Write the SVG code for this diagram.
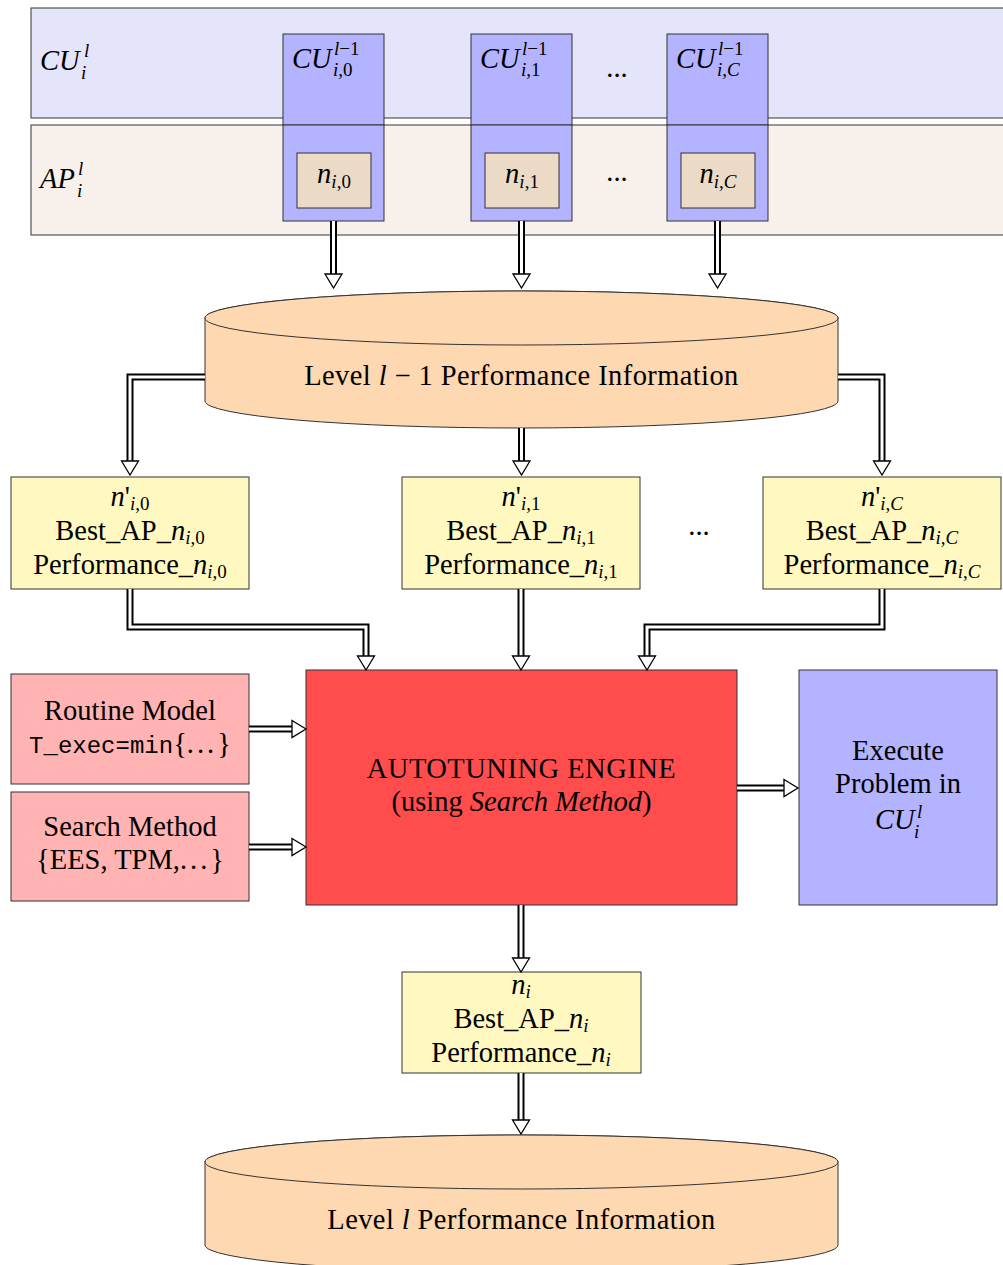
<svg xmlns="http://www.w3.org/2000/svg" width="1003" height="1265" viewBox="0 0 1003 1265">
<style>
.t{font-family:"Liberation Serif",serif;font-size:28.5px;fill:#000}
.i{font-style:italic}
.s{font-size:19px}
.tt{font-family:"Liberation Mono",monospace;font-size:24px}
.bx{stroke:#333;stroke-width:1}
.o{fill:none;stroke:#000;stroke-width:7;stroke-linejoin:miter}
.w{fill:none;stroke:#fff;stroke-width:3;stroke-linejoin:miter;marker-end:url(#hd)}
</style>
<defs>
<marker id="hd" viewBox="-1 -10 17 20" refX="0" refY="0" markerWidth="17" markerHeight="20" markerUnits="userSpaceOnUse" orient="auto" overflow="visible">
<path d="M0,-8.5 L14,0 L0,8.5 Z" fill="#fff" stroke="#000" stroke-width="1.3" stroke-linejoin="miter"/>
</marker>
</defs>
<rect width="1003" height="1265" fill="#fff"/>

<g id="cu-band">
<rect class="bx" x="31" y="8" width="1000" height="110" fill="#E4E4FB"/>
<text class="t i" x="40" y="70">CU<tspan class="s" x="84" y="57">l</tspan><tspan class="s" x="81" y="79">i</tspan></text>
</g>
<g id="ap-band">
<rect class="bx" x="31" y="125" width="1000" height="110" fill="#F8F0EA"/>
<text class="t i" x="40" y="188">AP<tspan class="s" x="78" y="175">l</tspan><tspan class="s" x="77" y="197">i</tspan></text>
</g>

<g id="cu0">
<rect class="bx" x="283" y="34" width="101" height="91" fill="#B3B3FF"/>
<rect class="bx" x="283" y="125" width="101" height="96" fill="#B3B3FF"/>
<text class="t i" x="292" y="68">CU<tspan class="s" x="334" y="55">l<tspan font-style="normal">−1</tspan></tspan><tspan class="s" x="333" y="76">i<tspan font-style="normal">,0</tspan></tspan></text>
<rect class="bx" x="297" y="153" width="74" height="55" fill="#EBDAC6"/>
<text class="t" x="334" y="183" text-anchor="middle"><tspan class="i">n</tspan><tspan class="s" dy="5"><tspan class="i">i</tspan>,0</tspan></text>
</g>
<g id="cu1">
<rect class="bx" x="471" y="34" width="101" height="91" fill="#B3B3FF"/>
<rect class="bx" x="471" y="125" width="101" height="96" fill="#B3B3FF"/>
<text class="t i" x="480" y="68">CU<tspan class="s" x="522" y="55">l<tspan font-style="normal">−1</tspan></tspan><tspan class="s" x="521" y="76">i<tspan font-style="normal">,1</tspan></tspan></text>
<rect class="bx" x="485" y="153" width="74" height="55" fill="#EBDAC6"/>
<text class="t" x="522" y="183" text-anchor="middle"><tspan class="i">n</tspan><tspan class="s" dy="5"><tspan class="i">i</tspan>,1</tspan></text>
</g>
<g id="cuC">
<rect class="bx" x="667" y="34" width="101" height="91" fill="#B3B3FF"/>
<rect class="bx" x="667" y="125" width="101" height="96" fill="#B3B3FF"/>
<text class="t i" x="676" y="68">CU<tspan class="s" x="718" y="55">l<tspan font-style="normal">−1</tspan></tspan><tspan class="s" x="717" y="76">i<tspan font-style="normal">,</tspan>C</tspan></text>
<rect class="bx" x="681" y="153" width="74" height="55" fill="#EBDAC6"/>
<text class="t" x="718" y="183" text-anchor="middle"><tspan class="i">n</tspan><tspan class="s" dy="5"><tspan class="i">i</tspan>,<tspan class="i">C</tspan></tspan></text>
</g>
<g id="dots-top">
<text class="t" x="617" y="77" text-anchor="middle">...</text>
<text class="t" x="617" y="181" text-anchor="middle">...</text>
</g>

<g id="db-prev">
<path class="bx" d="M205,318 V401 A316.5,27 0 0 0 838,401 V318 A316.5,27 0 0 0 205,318 Z" fill="#FED8B1"/>
<ellipse class="bx" cx="521.5" cy="318" rx="316.5" ry="27" fill="#FED8B1"/>
<text class="t" x="521.5" y="385" text-anchor="middle" letter-spacing="0.4">Level <tspan class="i">l</tspan> − 1 Performance Information</text>
</g>

<g id="best0">
<rect class="bx" x="11" y="477" width="238" height="112" fill="#FFF9C1"/>
<text class="t" x="130" y="506" text-anchor="middle"><tspan class="i">n</tspan>'<tspan class="s" dy="4"><tspan class="i">i</tspan>,0</tspan></text>
<text class="t" x="130" y="540" text-anchor="middle">Best_AP_<tspan class="i">n</tspan><tspan class="s" dy="4"><tspan class="i">i</tspan>,0</tspan></text>
<text class="t" x="130" y="574" text-anchor="middle">Performance_<tspan class="i">n</tspan><tspan class="s" dy="4"><tspan class="i">i</tspan>,0</tspan></text>
</g>
<g id="best1">
<rect class="bx" x="402" y="477" width="238" height="112" fill="#FFF9C1"/>
<text class="t" x="521" y="506" text-anchor="middle"><tspan class="i">n</tspan>'<tspan class="s" dy="4"><tspan class="i">i</tspan>,1</tspan></text>
<text class="t" x="521" y="540" text-anchor="middle">Best_AP_<tspan class="i">n</tspan><tspan class="s" dy="4"><tspan class="i">i</tspan>,1</tspan></text>
<text class="t" x="521" y="574" text-anchor="middle">Performance_<tspan class="i">n</tspan><tspan class="s" dy="4"><tspan class="i">i</tspan>,1</tspan></text>
</g>
<g id="bestC">
<rect class="bx" x="763" y="477" width="238" height="112" fill="#FFF9C1"/>
<text class="t" x="882" y="506" text-anchor="middle"><tspan class="i">n</tspan>'<tspan class="s" dy="4"><tspan class="i">i</tspan>,<tspan class="i">C</tspan></tspan></text>
<text class="t" x="882" y="540" text-anchor="middle">Best_AP_<tspan class="i">n</tspan><tspan class="s" dy="4"><tspan class="i">i</tspan>,<tspan class="i">C</tspan></tspan></text>
<text class="t" x="882" y="574" text-anchor="middle">Performance_<tspan class="i">n</tspan><tspan class="s" dy="4"><tspan class="i">i</tspan>,<tspan class="i">C</tspan></tspan></text>
</g>
<g id="dots-mid">
<text class="t" x="699" y="535" text-anchor="middle">...</text>
</g>

<g id="routine">
<rect class="bx" x="11" y="674" width="238" height="110" fill="#FFB3B3"/>
<text class="t" x="130" y="720" text-anchor="middle">Routine Model</text>
<text class="t" x="130" y="753" text-anchor="middle"><tspan class="tt">T_exec=min</tspan>{<tspan letter-spacing="3">...</tspan>}</text>
</g>
<g id="search">
<rect class="bx" x="11" y="792" width="238" height="109" fill="#FFB3B3"/>
<text class="t" x="130" y="836" text-anchor="middle">Search Method</text>
<text class="t" x="130" y="869" text-anchor="middle">{EES, TPM,<tspan letter-spacing="3">...</tspan>}</text>
</g>
<g id="engine">
<rect class="bx" x="306" y="670" width="431" height="235" fill="#FF4D4D"/>
<text class="t" x="521.5" y="778" text-anchor="middle" letter-spacing="0.5">AUTOTUNING ENGINE</text>
<text class="t" x="521.5" y="811" text-anchor="middle">(using <tspan class="i">Search Method</tspan>)</text>
</g>
<g id="execute">
<rect class="bx" x="799" y="670" width="198" height="235" fill="#B3B3FF"/>
<text class="t" x="898" y="760" text-anchor="middle">Execute</text>
<text class="t" x="898" y="793" text-anchor="middle">Problem in</text>
<text class="t i" x="875" y="829">CU<tspan class="s" x="917" y="818">l</tspan><tspan class="s" x="914" y="838">i</tspan></text>
</g>
<g id="best-n">
<rect class="bx" x="402" y="972" width="239" height="101" fill="#FFF9C1"/>
<text class="t" x="521" y="994" text-anchor="middle"><tspan class="i">n</tspan><tspan class="s i" dy="4">i</tspan></text>
<text class="t" x="521" y="1028" text-anchor="middle">Best_AP_<tspan class="i">n</tspan><tspan class="s i" dy="4">i</tspan></text>
<text class="t" x="521" y="1062" text-anchor="middle">Performance_<tspan class="i">n</tspan><tspan class="s i" dy="4">i</tspan></text>
</g>
<g id="db-level">
<path class="bx" d="M205,1162 V1245 A316.5,27 0 0 0 838,1245 V1162 A316.5,27 0 0 0 205,1162 Z" fill="#FED8B1"/>
<ellipse class="bx" cx="521.5" cy="1162" rx="316.5" ry="27" fill="#FED8B1"/>
<text class="t" x="521.5" y="1229" text-anchor="middle" letter-spacing="0.4">Level <tspan class="i">l</tspan> Performance Information</text>
</g>

<g id="connectors">
<g><path class="o" d="M333.5,221 V275"/><path class="w" d="M333.5,221 V274"/></g>
<g><path class="o" d="M521.5,221 V275"/><path class="w" d="M521.5,221 V274"/></g>
<g><path class="o" d="M717.5,221 V275"/><path class="w" d="M717.5,221 V274"/></g>
<g><path class="o" d="M205,377 H130 V462"/><path class="w" d="M205,377 H130 V461"/></g>
<g><path class="o" d="M521.5,428 V462"/><path class="w" d="M521.5,428 V461"/></g>
<g><path class="o" d="M838,377 H882 V462"/><path class="w" d="M838,377 H882 V461"/></g>
<g><path class="o" d="M130,589 V627 H366 V657"/><path class="w" d="M130,589 V627 H366 V656"/></g>
<g><path class="o" d="M521,589 V657"/><path class="w" d="M521,589 V656"/></g>
<g><path class="o" d="M882,589 V627 H647 V657"/><path class="w" d="M882,589 V627 H647 V656"/></g>
<g><path class="o" d="M249,729 H293"/><path class="w" d="M249,729 H292"/></g>
<g><path class="o" d="M249,847 H293"/><path class="w" d="M249,847 H292"/></g>
<g><path class="o" d="M737,788 H785"/><path class="w" d="M737,788 H784"/></g>
<g><path class="o" d="M521,905 V959"/><path class="w" d="M521,905 V958"/></g>
<g><path class="o" d="M521,1073 V1121"/><path class="w" d="M521,1073 V1120"/></g>
</g>
</svg>
